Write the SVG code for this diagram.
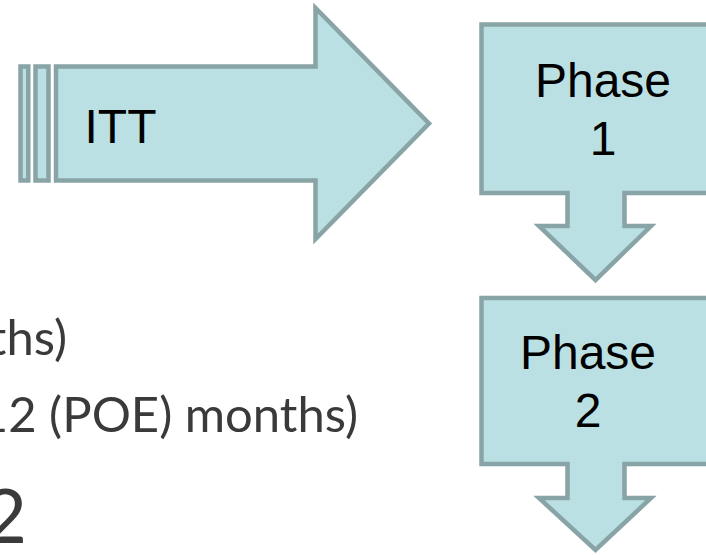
<svg xmlns="http://www.w3.org/2000/svg" width="706" height="555" viewBox="0 0 706 555">
  <style>
    .shape { fill: #BBE0E3; stroke: #89A4A6; stroke-width: 4.5; }
    .lbl { font-family: "Liberation Sans", Arial, sans-serif; font-size: 48px; fill: #000; }
    .body { font-family: Lato, "Open Sans", sans-serif; fill: #3a3a3a; }
  </style>
  <rect x="0" y="0" width="706" height="555" fill="#ffffff"/>
  <g id="body-text">
    <text class="body" x="67" y="355" font-size="49" text-anchor="end">ths)</text>
    <text class="body" x="358" y="432" font-size="49" text-anchor="end">12 (POE) months)</text>
    <text class="body" x="27" y="543" font-size="76" text-anchor="end">2</text>
  </g>
  <g id="connectors"></g>
  <g id="itt">
    <rect class="shape" x="20.5" y="66.5" width="7.8" height="114"/>
    <rect class="shape" x="35.5" y="66.5" width="13" height="114"/>
    <path class="shape" d="M56,66.5 H315.5 V8 L429,123.5 L315.5,239 V180.5 H56 Z"/>
    <text class="lbl" x="84.5" y="143">ITT</text>
  </g>
  <g id="phase1">
    <path class="shape" d="M481.5,24.5 H720 V193 H624.5 V226 H651 L595.5,280 L539,226 H567.5 V193 H481.5 Z"/>
    <text class="lbl" x="603" y="97" text-anchor="middle">Phase</text>
    <text class="lbl" x="603" y="155" text-anchor="middle">1</text>
  </g>
  <g id="phase2">
    <path class="shape" d="M481.5,298 H720 V464 H624.5 V498 H651 L595.5,550 L539,498 H567.5 V464 H481.5 Z"/>
    <text class="lbl" x="588" y="369" text-anchor="middle">Phase</text>
    <text class="lbl" x="588" y="427" text-anchor="middle">2</text>
  </g>
</svg>
